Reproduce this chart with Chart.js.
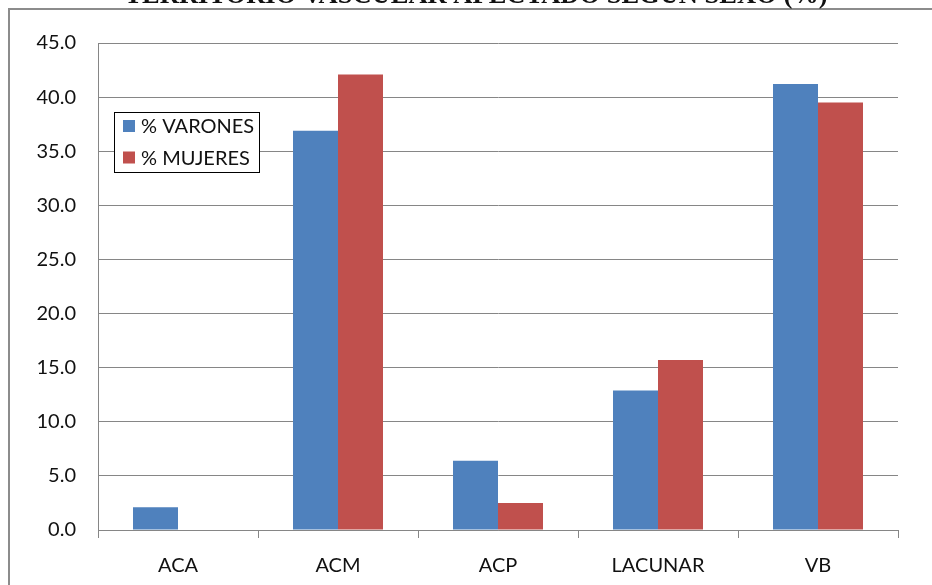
<!DOCTYPE html>
<html>
<head>
<meta charset="utf-8">
<script src="https://cdn.jsdelivr.net/npm/chart.js@4.4.1/dist/chart.umd.min.js"></script>
<style>
  html, body { margin: 0; padding: 0; background: #fff; }
  #wrap { position: relative; width: 932px; height: 585px; overflow: hidden; background: #fff; }
  #frame { position: absolute; left: 8px; top: 8px; width: 1000px; height: 700px;
           border-left: 2px solid #8c8c8c; border-top: 2px solid #8c8c8c; }
  #box { position: absolute; left: 0; top: 0; width: 932px; height: 585px; }
</style>
</head>
<body>
<div id="wrap">
  <div id="frame"></div>
  <div id="box"><canvas id="c"></canvas></div>
</div>
<script>
const titleText = 'TERRITORIO VASCULAR AFECTADO SEGÚN SEXO (%)';
const categories = ['ACA', 'ACM', 'ACP', 'LACUNAR', 'VB'];
const varones = [2.1, 36.9, 6.4, 12.9, 41.2];
const mujeres = [0.0, 42.1, 2.5, 15.7, 39.5];
const seriesNames = ['% VARONES', '% MUJERES'];
const seriesColors = ['#4F81BD', '#C0504D'];
const yTicks = [0, 5, 10, 15, 20, 25, 30, 35, 40, 45];

const FONT = 'Lato, "Open Sans", sans-serif';
const GRID = '#868686';

// chart heading, sitting at the very top edge of the canvas
const topHeading = {
  id: 'topHeading',
  afterDraw(chart) {
    const ctx = chart.ctx;
    ctx.save();
    ctx.font = 'bold 26.5px "Liberation Serif", "Times New Roman", serif';
    ctx.fillStyle = '#111';
    ctx.textAlign = 'center';
    ctx.textBaseline = 'alphabetic';
    ctx.fillText(titleText, 476, 2.5);
    ctx.restore();
  }
};

// boxed legend drawn inside the plot area
const boxedLegend = {
  id: 'boxedLegend',
  afterDraw(chart) {
    const ctx = chart.ctx;
    const x0 = 114, y0 = 112, w = 145, h = 60;
    ctx.save();
    ctx.fillStyle = '#fff';
    ctx.fillRect(x0, y0, w, h);
    ctx.strokeStyle = '#000';
    ctx.lineWidth = 1;
    ctx.strokeRect(x0 + 0.5, y0 + 0.5, w, h);
    ctx.font = '20px ' + FONT;
    ctx.textBaseline = 'middle';
    chart.data.datasets.forEach((ds, i) => {
      const cy = y0 + 14 + i * 31.5;
      ctx.fillStyle = ds.backgroundColor;
      ctx.fillRect(x0 + 9, cy - 6, 12, 12);
      ctx.fillStyle = '#111';
      ctx.fillText(ds.label, x0 + 27, cy + 1);
    });
    ctx.restore();
  }
};

new Chart(document.getElementById('c'), {
  type: 'bar',
  data: {
    labels: categories,
    datasets: [
      { label: seriesNames[0], data: varones, backgroundColor: seriesColors[0] },
      { label: seriesNames[1], data: mujeres, backgroundColor: seriesColors[1] }
    ]
  },
  options: {
    responsive: true,
    maintainAspectRatio: false,
    animation: false,
    datasets: { bar: { categoryPercentage: 0.5625, barPercentage: 1.0 } },
    layout: { padding: { left: 0, right: 34, top: 43, bottom: 0 } },
    plugins: {
      legend: { display: false },
      tooltip: { enabled: false },
      title: { display: false }
    },
    scales: {
      x: {
        grid: { display: true, drawOnChartArea: false, drawTicks: true, tickLength: 8, color: GRID, offset: true },
        border: { display: true, color: GRID, width: 1 },
        ticks: { color: '#111', font: { family: FONT, size: 20 }, padding: 16, maxRotation: 0 },
        afterFit(scale) { scale.height = 55; }
      },
      y: {
        min: 0,
        max: 45,
        afterBuildTicks(scale) { scale.ticks = yTicks.map(v => ({ value: v })); },
        grid: { color: GRID, drawTicks: false, lineWidth: 1 },
        border: { display: true, color: GRID, width: 1 },
        ticks: {
          color: '#111',
          font: { family: FONT, size: 20 },
          padding: 22,
          callback: v => Number(v).toFixed(1)
        },
        afterFit(scale) { scale.width = 98; }
      }
    }
  },
  plugins: [topHeading, boxedLegend]
});
</script>
</body>
</html>
